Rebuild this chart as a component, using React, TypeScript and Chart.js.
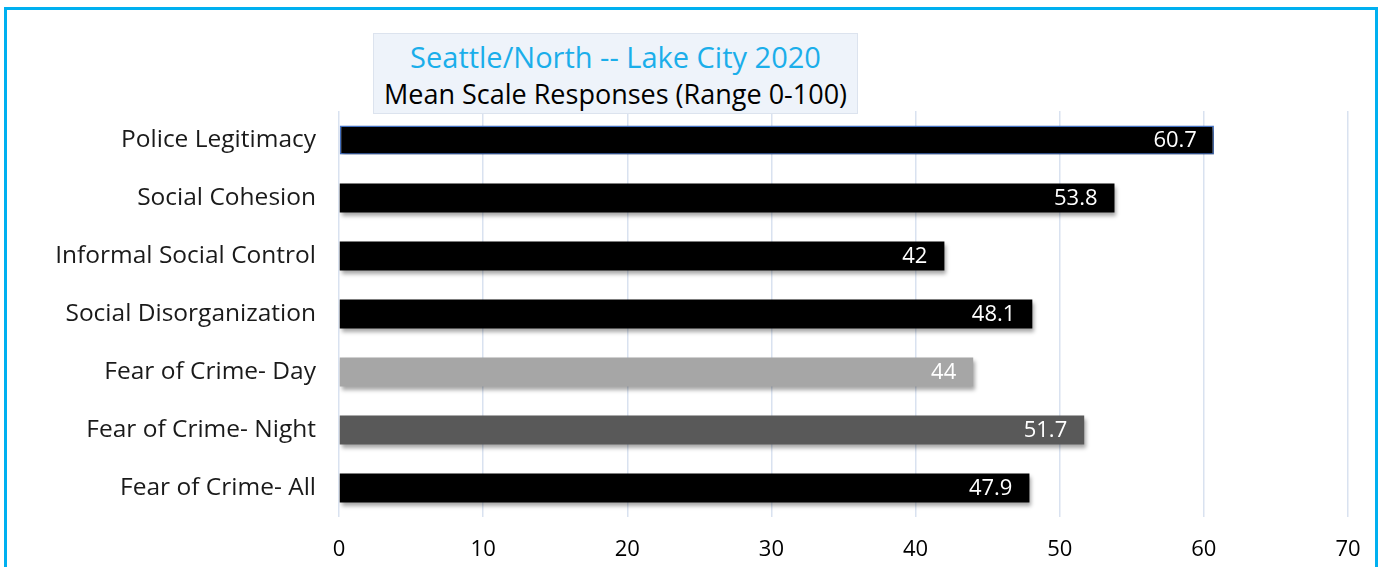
import React, { useEffect, useRef } from "react";
import { Chart, registerables } from "chart.js";

Chart.register(...registerables);

const categories = [
  "Police Legitimacy",
  "Social Cohesion",
  "Informal Social Control",
  "Social Disorganization",
  "Fear of Crime- Day",
  "Fear of Crime- Night",
  "Fear of Crime- All",
];
const values = [60.7, 53.8, 42, 48.1, 44, 51.7, 47.9];
const barColors = ["#000000", "#000000", "#000000", "#000000", "#A6A6A6", "#595959", "#000000"];
const barBorderColors = ["#4472C4", "rgba(0,0,0,0)", "rgba(0,0,0,0)", "rgba(0,0,0,0)", "rgba(0,0,0,0)", "rgba(0,0,0,0)", "rgba(0,0,0,0)"];
const barBorderWidths = [1.5, 0, 0, 0, 0, 0, 0];
const xMin = 0;
const xMax = 70;
const xStep = 10;
const titleText = "Seattle/North -- Lake City 2020";
const subtitleText = "Mean Scale Responses (Range 0-100)";

const FONT = "'Open Sans', sans-serif";

const shadowPlugin = {
  id: "barShadow",
  beforeDatasetDraw(chart: any) {
    const ctx = chart.ctx;
    ctx.save();
    ctx.shadowColor = "rgba(0,0,0,0.35)";
    ctx.shadowBlur = 4;
    ctx.shadowOffsetX = 2;
    ctx.shadowOffsetY = 3;
  },
  afterDatasetDraw(chart: any) {
    chart.ctx.restore();
  },
};

const labelPlugin = {
  id: "barLabels",
  afterDatasetsDraw(chart: any) {
    const ctx = chart.ctx;
    const meta = chart.getDatasetMeta(0);
    ctx.save();
    ctx.fillStyle = "#FFFFFF";
    ctx.font = `22px ${FONT}`;
    ctx.textAlign = "right";
    ctx.textBaseline = "middle";
    meta.data.forEach((el: any, i: number) => {
      ctx.fillText(String(values[i]), el.x - 17, el.y + 1);
    });
    ctx.restore();
  },
};

export default function App() {
  const canvasRef = useRef<HTMLCanvasElement | null>(null);

  useEffect(() => {
    document.body.style.margin = "0";
    const canvas = canvasRef.current;
    if (!canvas) return;
    const chart = new Chart(canvas, {
      type: "bar",
      data: {
        labels: categories,
        datasets: [
          {
            data: values,
            backgroundColor: barColors,
            borderColor: barBorderColors,
            borderWidth: barBorderWidths,
            barPercentage: 0.5,
            categoryPercentage: 1,
            borderSkipped: false,
          },
        ],
      },
      options: {
        indexAxis: "y",
        responsive: false,
        animation: false,
        maintainAspectRatio: false,
        layout: { padding: { left: 0, right: 37, top: 111, bottom: 0 } },
        plugins: {
          legend: { display: false },
          title: { display: false },
          tooltip: { enabled: false },
        },
        scales: {
          x: {
            min: xMin,
            max: xMax,
            ticks: {
              stepSize: xStep,
              color: "#000000",
              font: { family: FONT, size: 22 },
              padding: 20,
            },
            grid: { color: "#D9E2F0", lineWidth: 1.5, drawTicks: false },
            border: { display: false },
            afterFit(scale: any) {
              scale.height = 50;
            },
          },
          y: {
            ticks: {
              color: "#1A1A1A",
              font: { family: FONT, size: 24.5 },
              padding: 23,
            },
            grid: { display: false, drawTicks: false },
            border: { display: false },
            afterFit(scale: any) {
              scale.width = 339;
            },
          },
        },
      },
      plugins: [shadowPlugin, labelPlugin],
    } as any);
    return () => chart.destroy();
  }, []);

  return (
    <div style={{ position: "relative", width: 1385, height: 567, overflow: "hidden", background: "#FFFFFF" }}>
      <div
        style={{
          position: "absolute",
          left: 4,
          top: 7,
          width: 1374,
          height: 640,
          border: "3px solid #00B0F0",
          boxSizing: "border-box",
        }}
      />
      <canvas
        ref={canvasRef}
        width={1385}
        height={567}
        style={{ position: "absolute", left: 0, top: 0, width: 1385, height: 567 }}
      />
      <div
        style={{
          position: "absolute",
          left: 373,
          top: 33,
          width: 485,
          height: 81,
          boxSizing: "border-box",
          background: "#EEF3FA",
          border: "1px solid #DCE3EE",
          textAlign: "center",
          fontFamily: FONT,
          zIndex: 2,
          whiteSpace: "nowrap",
        }}
      >
        <div style={{ color: "#1BAEEA", fontSize: 29, lineHeight: "36px", marginTop: 5 }}>{titleText}</div>
        <div style={{ color: "#000000", fontSize: 27, lineHeight: "36px", marginTop: 1 }}>{subtitleText}</div>
      </div>
    </div>
  );
}
